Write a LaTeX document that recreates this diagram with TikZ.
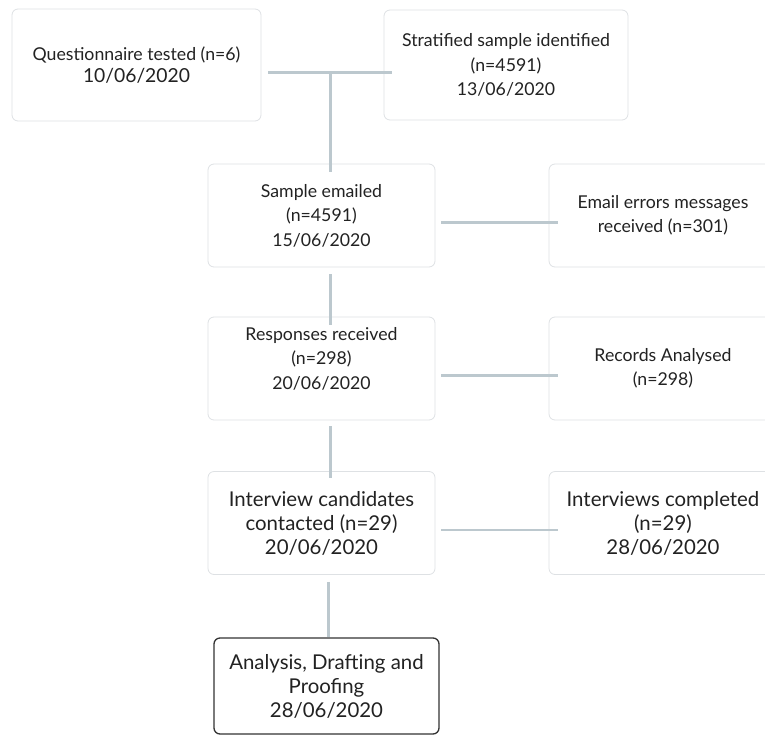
\documentclass[tikz,border=0pt]{standalone}
\usepackage{fontspec}
\setmainfont{Lato}
\definecolor{linkgray}{HTML}{BCC8CE}
\definecolor{boxgray}{HTML}{DEE1E4}
\definecolor{textgray}{HTML}{222222}
\tikzset{
  stage/.style={draw=boxgray, line width=0.8pt, rounded corners=6pt, fill=white,
    align=center, text=textgray, minimum width=227pt, minimum height=103pt,
    inner sep=2pt, font=\fontsize{17.7}{24.5}\selectfont},
  bigstage/.style={stage, font=\fontsize{20.4}{24}\selectfont},
  link/.style={draw=linkgray, line width=2.8pt},
}
\begin{document}
\begin{tikzpicture}[x=1pt,y=1pt]
\useasboundingbox (0,0) rectangle (765,-736);
\clip (0,0) rectangle (765,-736);
% top row
\node[stage, minimum width=249pt, minimum height=112pt, font=\fontsize{17.7}{21.6}\selectfont] (quest) at (136.5,-65)
  {Questionnaire tested (n=6)\\{\fontsize{19.3}{21.6}\selectfont 10/06/2020}};
\node[stage, minimum width=244pt, minimum height=110pt] (strat) at (506,-65)
  {Stratified sample identified\\(n=4591)\\13/06/2020};
% left column
\node[stage] (emailed) at (321.5,-215.5) {Sample emailed\\(n=4591)\\15/06/2020};
\node[stage] (responses) at (321.5,-368.5) {Responses received\\(n=298)\\20/06/2020\\[-4pt]\mbox{}};
\node[bigstage] (contact) at (321.5,-523) {Interview candidates\\contacted (n=29)\\20/06/2020};
\node[bigstage, draw=black!80, line width=1.3pt, minimum width=225pt, minimum height=96pt] (final) at (326.5,-686)
  {Analysis, Drafting and\\Proofing\\28/06/2020};
% right column
\node[stage, minimum width=228pt] (errors) at (663,-215.5) {Email errors messages\\received (n=301)};
\node[stage, minimum width=228pt] (records) at (663,-368.5) {Records Analysed\\(n=298)};
\node[bigstage, minimum width=228pt] (done) at (663,-523) {Interviews completed\\(n=29)\\28/06/2020};
% connectors
\coordinate (join) at (330.5,-72.5);
\draw[link, shorten <=7pt, shorten >=-8pt] ([yshift=-7.5pt]quest.east) -- ([yshift=-7.5pt]strat.west);
\draw[link, shorten >=-8pt] (join) -- ([xshift=9pt]emailed.north);
\draw[link, shorten <=6pt, shorten >=-9pt] ([yshift=-7pt]emailed.east) -- ([yshift=-7pt]errors.west);
\draw[link, shorten <=7pt, shorten >=-8pt] ([xshift=9pt]emailed.south) -- ([xshift=9pt]responses.north);
\draw[link, shorten <=6pt, shorten >=-9pt] ([yshift=-7pt]responses.east) -- ([yshift=-7pt]records.west);
\draw[link, shorten <=6pt, shorten >=-7pt] ([xshift=9pt]responses.south) -- ([xshift=9pt]contact.north);
\draw[link, shorten <=6pt, shorten >=-9pt] ([yshift=-7pt]contact.east) -- ([yshift=-7pt]done.west);
\draw[link, shorten <=7pt] ([xshift=7pt]contact.south) -- ([xshift=7pt]contact.south |- final.north);
\end{tikzpicture}
\end{document}
